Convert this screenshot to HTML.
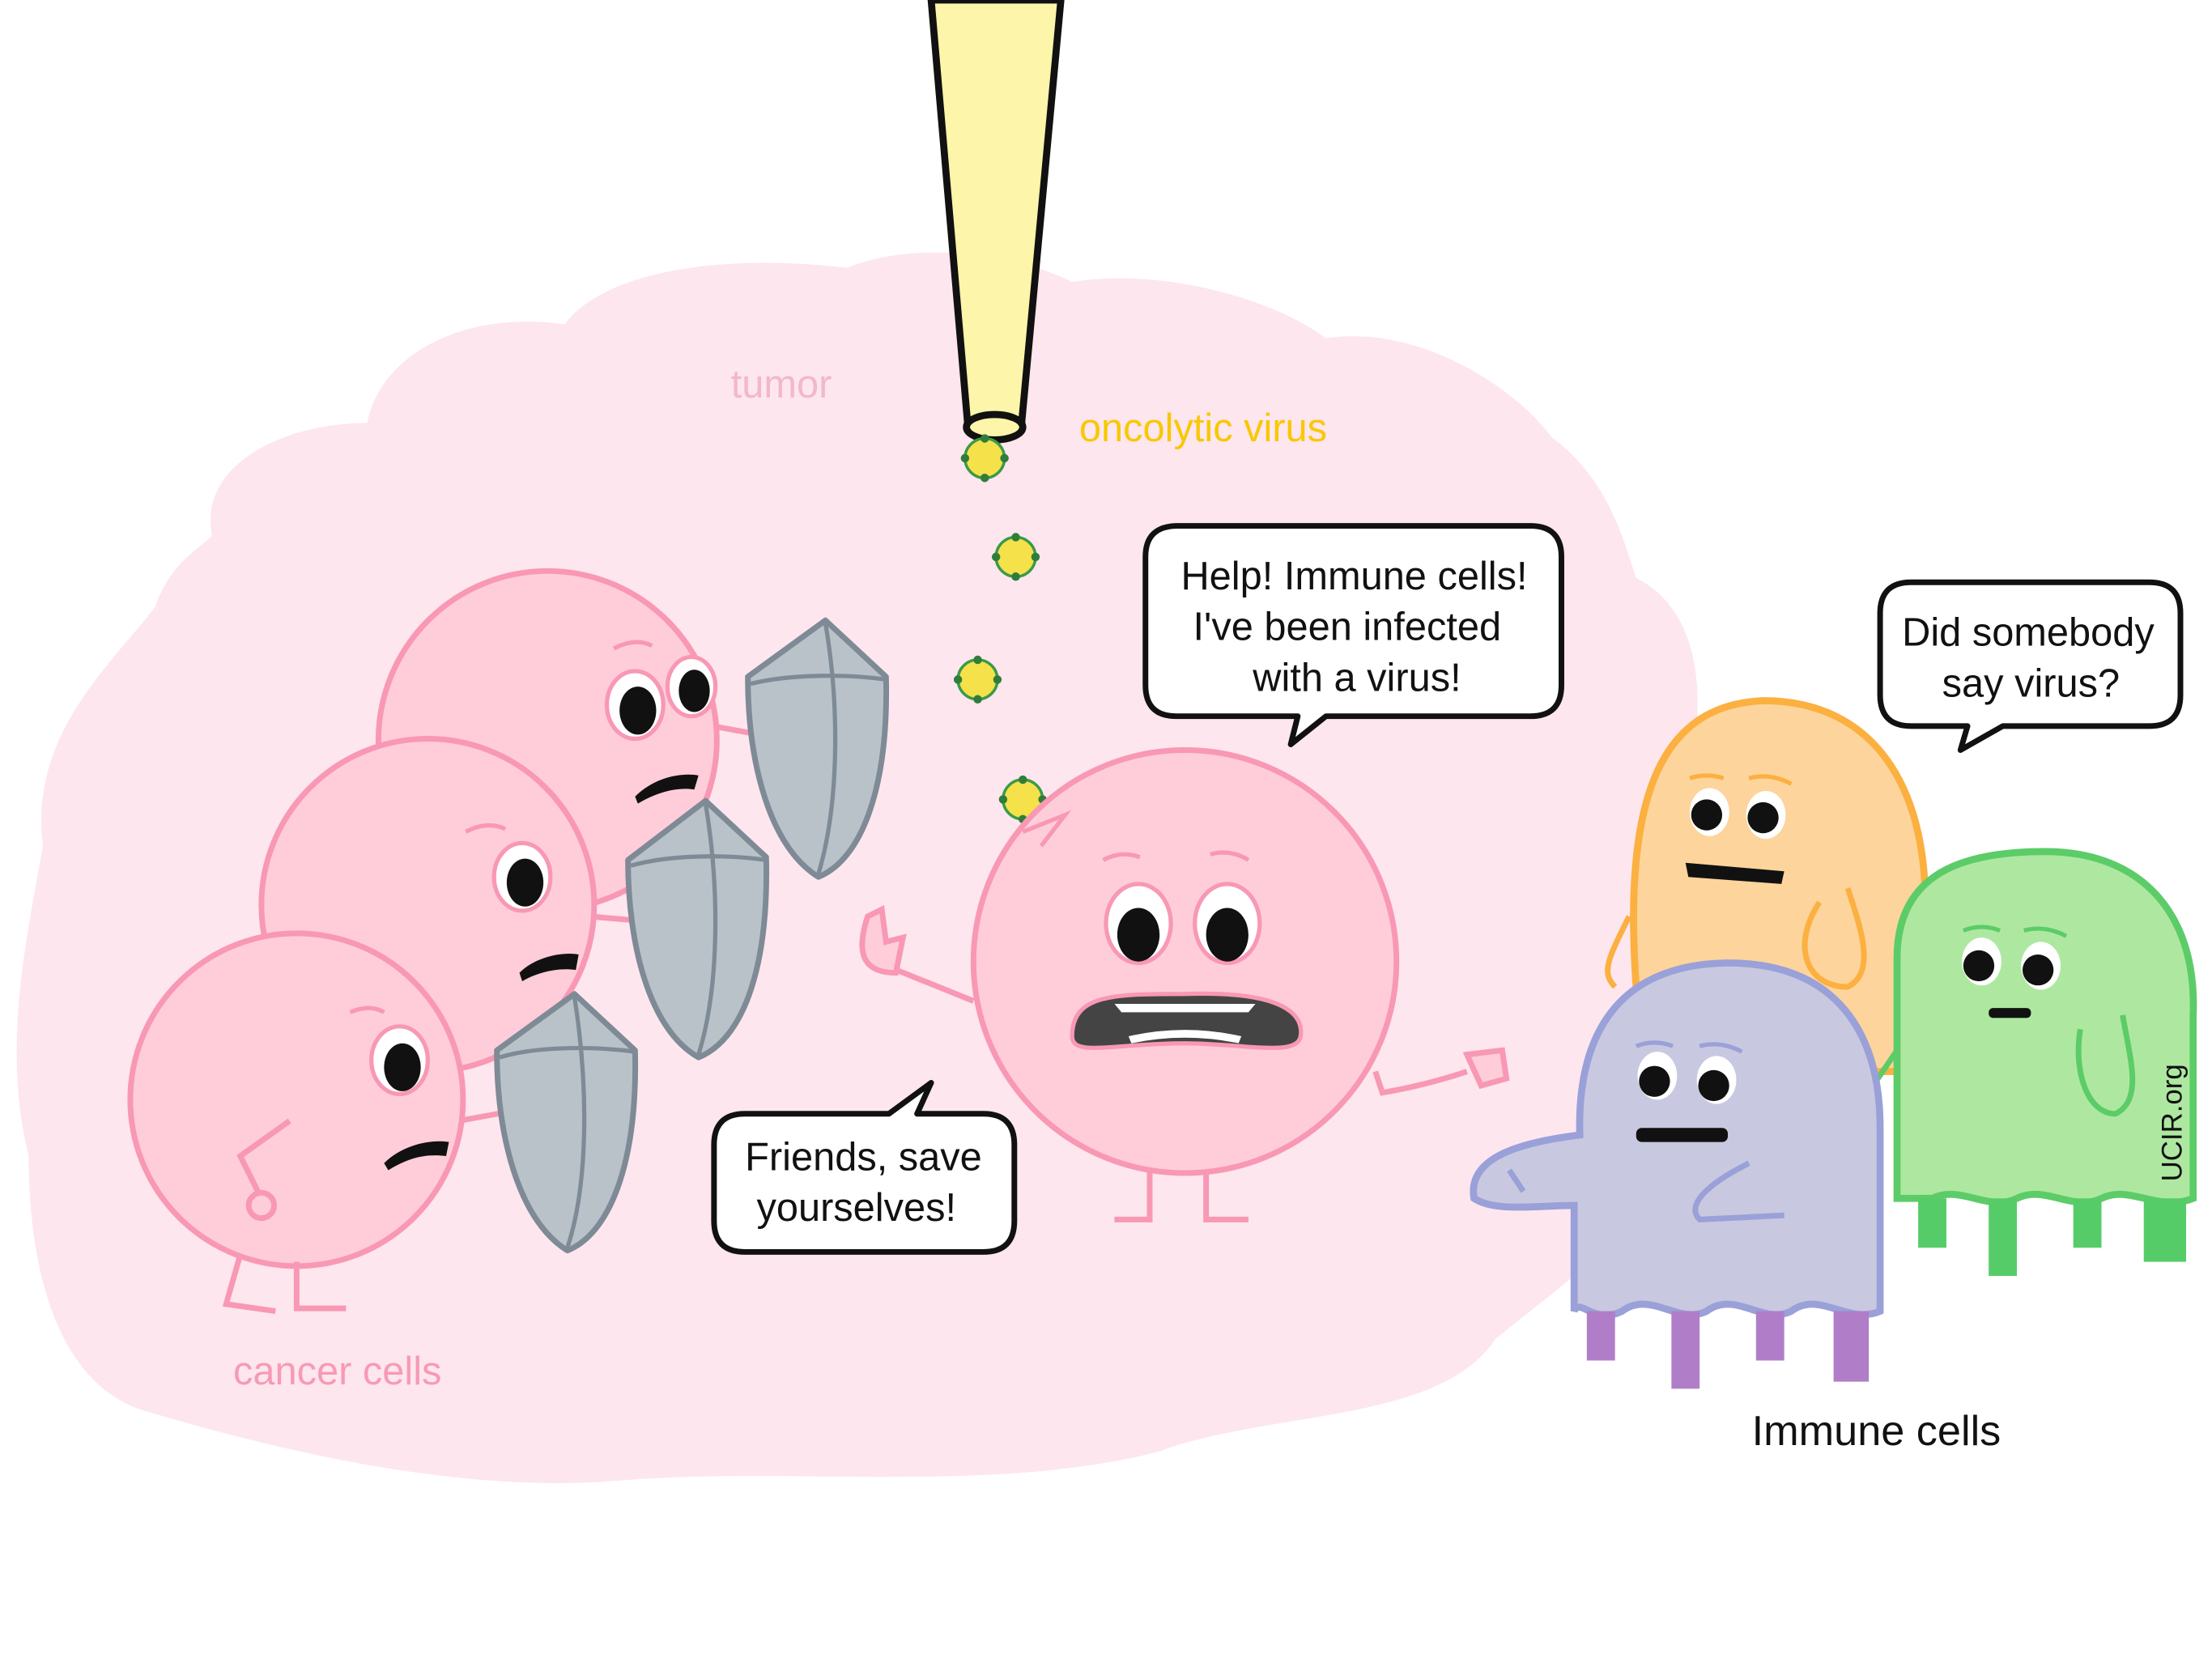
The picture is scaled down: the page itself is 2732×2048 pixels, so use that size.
<!DOCTYPE html>
<html><head><meta charset="utf-8"><style>
html,body{margin:0;padding:0;background:#fff;}
svg{display:block;}
text{font-family:"Liberation Sans",sans-serif;}
</style></head><body>
<svg width="2732" height="2048" viewBox="0 0 1568 1176" xmlns="http://www.w3.org/2000/svg">
<rect width="1568" height="1176" fill="#fff"/>
<path fill="#fde6ee" d="M150,380 C140,330 200,300 260,300 C270,250 330,220 400,230 C430,190 520,180 600,190 C650,170 720,180 760,200 C820,190 900,210 940,240 C1000,230 1070,270 1100,310 C1140,340 1150,380 1160,410 C1200,430 1210,480 1200,540 C1230,600 1200,680 1200,760 C1190,860 1120,900 1060,950 C1020,1010 900,1000 820,1030 C700,1060 560,1040 440,1050 C330,1060 200,1030 100,1000 C40,980 20,900 20,820 C0,740 20,660 30,600 C20,520 80,470 110,430 C120,400 140,390 150,380 Z"/>
<polygon points="660,0 752,0 724,302 686,302" fill="#fdf5a9" stroke="#111" stroke-width="5" stroke-linejoin="round"/>
<ellipse cx="705" cy="303" rx="20" ry="9" fill="#fdf5a9" stroke="#111" stroke-width="5"/>
<g stroke="#3a9a4a" stroke-width="2" fill="#f5e14a">
<circle cx="698" cy="325" r="14"/><circle cx="720" cy="395" r="14"/><circle cx="693" cy="482" r="14"/><circle cx="725" cy="567" r="14"/>
</g>
<g fill="#2f7d3a">
<circle cx="684" cy="325" r="3"/><circle cx="712" cy="325" r="3"/><circle cx="698" cy="311" r="3"/><circle cx="698" cy="339" r="3"/>
<circle cx="706" cy="395" r="3"/><circle cx="734" cy="395" r="3"/><circle cx="720" cy="381" r="3"/><circle cx="720" cy="409" r="3"/>
<circle cx="679" cy="482" r="3"/><circle cx="707" cy="482" r="3"/><circle cx="693" cy="468" r="3"/><circle cx="693" cy="496" r="3"/>
<circle cx="711" cy="567" r="3"/><circle cx="739" cy="567" r="3"/><circle cx="725" cy="553" r="3"/><circle cx="725" cy="581" r="3"/>
</g>
<text x="518" y="282" font-size="28" fill="#f2b8c9">tumor</text>
<text x="765" y="313" font-size="28" fill="#f8c800">oncolytic virus</text>
<text x="165" y="982" font-size="28" fill="#f79ab5">cancer cells</text>
<text x="1242" y="1025" font-size="30" fill="#111">Immune cells</text>
<g fill="#fecdd9" stroke="#f898b4" stroke-width="4">
<line x1="505" y1="515" x2="560" y2="525"/>
<circle cx="388" cy="525" r="120"/>
<line x1="418" y1="650" x2="475" y2="655"/>
<circle cx="303" cy="642" r="118"/>
<line x1="325" y1="795" x2="380" y2="785"/>
<circle cx="210" cy="780" r="118"/>
<path d="M170,890 L160,925 L195,930 M210,895 L210,928 L245,928" fill="none"/>
<path d="M205,795 L170,820 L185,850" fill="none"/>
<circle cx="185" cy="855" r="9"/>
</g>
<!-- cancer faces -->
<g fill="#fff" stroke="#f898b4" stroke-width="3">
<ellipse cx="450" cy="500" rx="20" ry="24"/><ellipse cx="490" cy="487" rx="17" ry="21"/>
<ellipse cx="370" cy="622" rx="20" ry="24"/><ellipse cx="283" cy="752" rx="20" ry="24"/>
</g>
<g fill="#111">
<ellipse cx="452" cy="504" rx="13" ry="17"/><ellipse cx="492" cy="490" rx="11" ry="15"/>
<ellipse cx="372" cy="626" rx="13" ry="17"/><ellipse cx="285" cy="757" rx="13" ry="17"/>
<path d="M450,565 C465,550 485,548 495,550 L492,560 C480,558 465,562 452,570 Z"/>
<path d="M368,690 C380,678 400,675 410,677 L408,688 C395,686 380,690 370,696 Z"/>
<path d="M272,825 C285,812 305,808 318,810 L316,820 C300,818 288,822 275,830 Z"/>
</g>
<g fill="none" stroke="#f898b4" stroke-width="3">
<path d="M435,460 Q450,452 462,458"/><path d="M330,590 Q345,582 358,588"/><path d="M248,718 Q262,712 272,718"/>
</g>
<!-- shields -->
<g fill="#b9c2c8" stroke="#7e8a95" stroke-width="4" stroke-linejoin="round">
<path d="M530,480 L585,440 L628,480 C630,560 610,610 580,622 C545,600 530,540 530,480 Z"/>
<path d="M445,610 L500,568 L543,608 C545,690 525,738 495,750 C460,730 445,670 445,610 Z"/>
<path d="M352,745 L407,705 L450,745 C452,825 432,875 402,887 C367,865 352,805 352,745 Z"/>
</g>
<g fill="none" stroke="#7e8a95" stroke-width="3">
<path d="M585,442 C595,500 595,570 580,620"/><path d="M532,485 C560,478 600,478 628,482"/>
<path d="M500,570 C510,630 510,700 495,748"/><path d="M447,614 C475,606 515,606 543,610"/>
<path d="M407,707 C417,770 417,840 402,885"/><path d="M354,750 C380,742 420,742 450,746"/>
</g>
<!-- main cell -->
<g fill="#fecdd9" stroke="#f898b4" stroke-width="4">
<path d="M690,710 L628,685 M975,760 L980,775 Q1010,770 1040,760" fill="none"/>
<path d="M615,650 C605,680 615,690 635,690 L640,665 L628,668 L625,645 Z"/>
<path d="M1040,748 L1065,745 L1068,765 L1050,770 Z"/>
<circle cx="840" cy="682" r="150"/>
<path d="M815,830 L815,865 L790,865 M855,830 L855,865 L885,865" fill="none"/>
</g>
<path d="M725,590 L755,578 L738,600" fill="none" stroke="#f898b4" stroke-width="3"/>
<ellipse cx="807" cy="655" rx="23" ry="28" fill="#fff" stroke="#f898b4" stroke-width="3"/>
<ellipse cx="870" cy="655" rx="23" ry="28" fill="#fff" stroke="#f898b4" stroke-width="3"/>
<ellipse cx="807" cy="663" rx="15" ry="19" fill="#111"/>
<ellipse cx="870" cy="663" rx="15" ry="19" fill="#111"/>
<path d="M782,610 Q795,603 808,608 M858,606 Q872,602 885,610" fill="none" stroke="#f898b4" stroke-width="3"/>
<path d="M760,735 C760,705 790,705 840,705 C900,703 925,715 922,735 C920,750 880,740 840,740 C790,740 760,750 760,735 Z" fill="#444" stroke="#f898b4" stroke-width="3"/>
<path d="M790,712 L890,712 L885,718 L795,718 Z M800,735 Q840,726 880,735 L878,740 Q840,732 802,740 Z" fill="#fff"/>
<!-- immune cells -->
<g stroke-width="5">
<path d="M1160,700 C1150,560 1180,500 1250,497 C1330,497 1365,560 1365,640 L1365,760 L1160,760 Z" fill="#fdd49c" stroke="#fbb040"/>
<path d="M1155,650 C1140,680 1135,690 1145,700 M1290,640 C1270,670 1280,700 1310,700 C1330,690 1320,660 1310,630" fill="none" stroke="#fbb040" stroke-width="4"/>
<path d="M1345,850 L1345,680 C1345,620 1390,604 1450,604 C1520,604 1558,650 1555,720 L1555,850 C1530,860 1510,840 1490,850 C1470,860 1450,840 1430,850 C1410,860 1390,840 1370,850 Z" fill="#aee8a0" stroke="#5ccc68"/>
<path d="M1475,730 C1470,760 1480,790 1500,790 C1520,780 1510,750 1505,720 M1345,745 L1328,770" fill="none" stroke="#5ccc68" stroke-width="4"/>
<g fill="#56cc68" stroke="none"><rect x="1360" y="850" width="20" height="35"/><rect x="1410" y="850" width="20" height="55"/><rect x="1470" y="850" width="20" height="35"/><rect x="1520" y="850" width="30" height="45"/></g>
<path d="M1045,850 C1040,820 1080,810 1120,805 C1118,730 1150,684 1225,683 C1300,683 1333,730 1333,800 L1333,930 C1310,940 1290,915 1270,930 C1250,940 1230,915 1210,930 C1190,940 1170,915 1150,930 C1130,940 1120,920 1116,930 L1116,855 C1090,855 1060,860 1045,850 Z" fill="#c8c8e0" stroke="#9aa0d8"/>
<path d="M1240,825 C1210,840 1195,855 1205,865 L1265,862 M1070,830 L1080,845" fill="none" stroke="#9aa0d8" stroke-width="4"/>
<g fill="#b07ec8" stroke="none"><rect x="1125" y="930" width="20" height="35"/><rect x="1185" y="930" width="20" height="55"/><rect x="1245" y="930" width="20" height="35"/><rect x="1300" y="930" width="25" height="50"/></g>
</g>
<g fill="#fff">
<ellipse cx="1212" cy="576" rx="14" ry="17"/><ellipse cx="1252" cy="578" rx="14" ry="17"/>
<ellipse cx="1405" cy="682" rx="14" ry="17"/><ellipse cx="1447" cy="685" rx="14" ry="17"/>
<ellipse cx="1175" cy="763" rx="14" ry="17"/><ellipse cx="1217" cy="766" rx="14" ry="17"/>
</g>
<g fill="#111">
<circle cx="1210" cy="578" r="11"/><circle cx="1250" cy="580" r="11"/>
<circle cx="1403" cy="685" r="11"/><circle cx="1445" cy="688" r="11"/>
<circle cx="1173" cy="767" r="11"/><circle cx="1215" cy="770" r="11"/>
<path d="M1195,612 L1265,618 L1263,627 L1197,622 Z"/><rect x="1410" y="715" width="30" height="7" rx="3"/><rect x="1160" y="800" width="65" height="10" rx="4"/>
</g>
<g fill="none" stroke-width="3">
<path d="M1198,552 Q1210,548 1222,552 M1240,552 Q1255,548 1270,556" stroke="#fbb040"/>
<path d="M1392,660 Q1405,655 1418,660 M1435,660 Q1450,656 1465,664" stroke="#5ccc68"/>
<path d="M1160,742 Q1173,737 1186,742 M1205,742 Q1220,738 1235,746" stroke="#9aa0d8"/>
</g>
<text x="1547" y="838" font-size="20" fill="#111" transform="rotate(-90 1547 838)">UCIR.org</text>
<g fill="#fff" stroke="#111" stroke-width="4" stroke-linejoin="round">
<path d="M835,373 L1085,373 Q1107,373 1107,395 L1107,486 Q1107,508 1085,508 L940,508 L915,528 L920,508 L834,508 Q812,508 812,486 L812,395 Q812,373 835,373 Z"/>
<path d="M1355,413 L1524,413 Q1546,413 1546,435 L1546,493 Q1546,515 1524,515 L1420,515 L1390,532 L1395,515 L1355,515 Q1333,515 1333,493 L1333,435 Q1333,413 1355,413 Z"/>
<path d="M528,790 L630,790 L660,768 L650,790 L697,790 Q719,790 719,812 L719,866 Q719,888 697,888 L528,888 Q506,888 506,866 L506,812 Q506,790 528,790 Z"/>
</g>
<g font-size="28" fill="#111" text-anchor="middle">
<text x="960" y="418">Help! Immune cells!</text>
<text x="955" y="454">I've been infected</text>
<text x="962" y="490">with a virus!</text>
<text x="1438" y="458">Did somebody</text>
<text x="1440" y="494">say virus?</text>
<text x="612" y="830">Friends, save</text>
<text x="607" y="866">yourselves!</text>
</g>
</svg>
</body></html>
